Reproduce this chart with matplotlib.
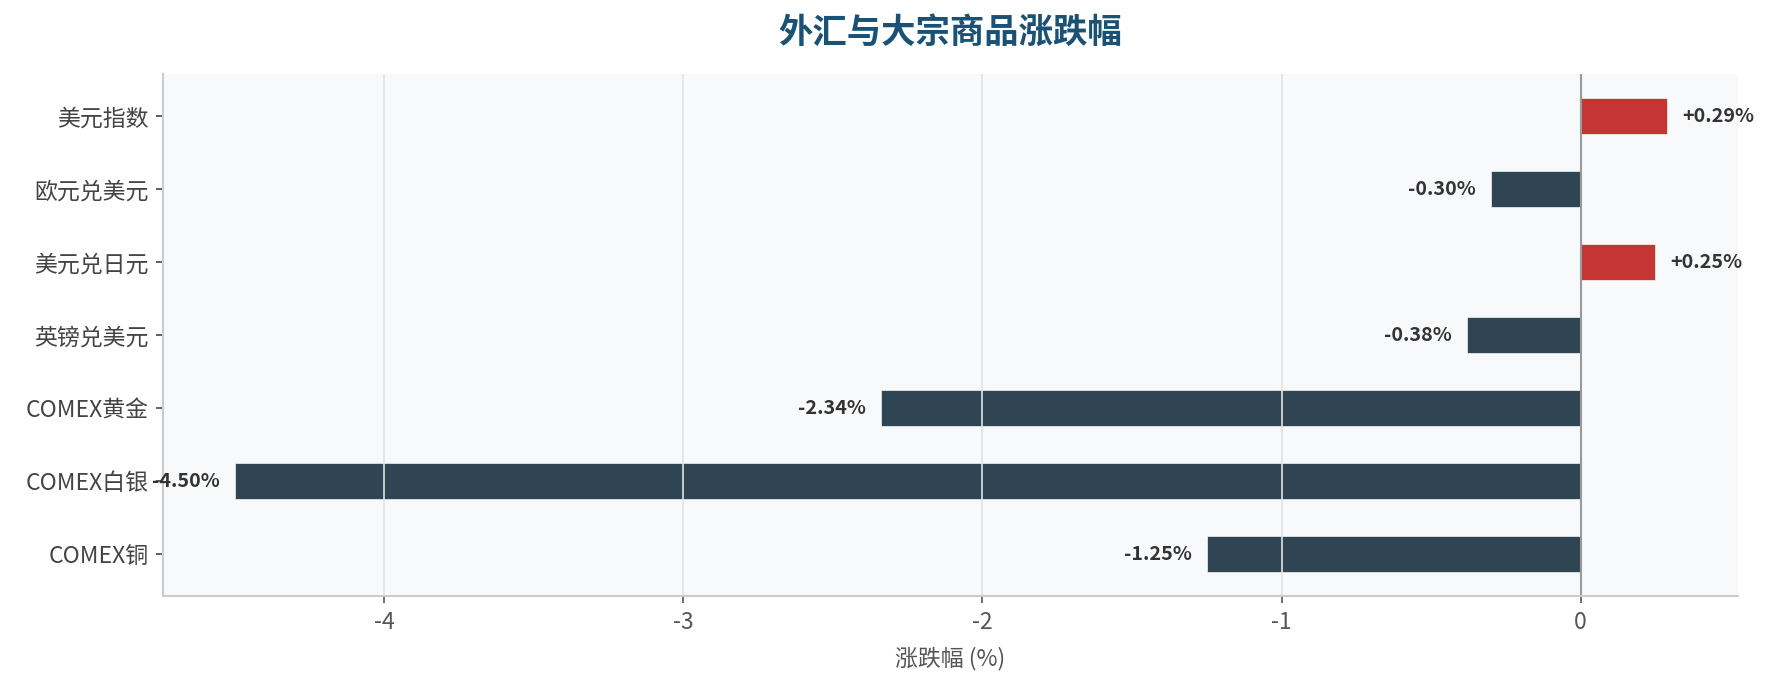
import matplotlib.pyplot as plt

plt.rcParams['font.family'] = ['Noto Sans CJK SC', 'DejaVu Sans']
plt.rcParams['axes.unicode_minus'] = False

# data (top to bottom)
names = ["美元指数", "欧元兑美元", "美元兑日元", "英镑兑美元", "COMEX黄金", "COMEX白银", "COMEX铜"]
changes = [0.29, -0.30, 0.25, -0.38, -2.34, -4.50, -1.25]

up_color = "#c43533"
down_color = "#2f4553"

fig = plt.figure(figsize=(1775 / 150, 694 / 150), dpi=150)
ax = fig.add_axes([0.0918, 0.141, 0.979 - 0.0918, 0.893 - 0.141])
ax.set_facecolor("#f8f9fa")

ypos = list(range(len(names)))[::-1]
colors = [up_color if v > 0 else down_color for v in changes]
ax.barh(ypos, changes, height=0.5, color=colors, edgecolor="#ffffff", linewidth=0.3)

for y, v in zip(ypos, changes):
    if v > 0:
        ax.text(v + 0.05, y, f"+{v:.2f}%", ha="left", va="center",
                fontsize=9.5, fontweight="bold", color="#333333")
    else:
        ax.text(v - 0.05, y, f"{v:.2f}%", ha="right", va="center",
                fontsize=9.5, fontweight="bold", color="#333333")

ax.axvline(0, color="#999999", linewidth=1.0)

ax.set_yticks(ypos)
ax.set_yticklabels(names)
ax.set_xlim(-4.74, 0.525)
ax.set_xticks([-4, -3, -2, -1, 0])
ax.set_xticklabels(["-4", "-3", "-2", "-1", "0"])
ax.tick_params(axis="y", labelsize=11, colors="#444444", labelcolor="#444444")
ax.tick_params(axis="x", labelsize=11, colors="#555555", labelcolor="#555555")

ax.grid(axis="x", color="#e3e3e3", linewidth=0.8)
ax.grid(axis="y", visible=False)

for s in ["top", "right"]:
    ax.spines[s].set_visible(False)
for s in ["left", "bottom"]:
    ax.spines[s].set_color("#cccccc")
    ax.spines[s].set_linewidth(1.0)

ax.set_xlabel("涨跌幅 (%)", fontsize=11, color="#555555", labelpad=6)
ax.set_title("外汇与大宗商品涨跌幅", fontsize=16.5, fontweight="bold", color="#1a5276", pad=15)

fig.savefig("out.png", dpi=150)
